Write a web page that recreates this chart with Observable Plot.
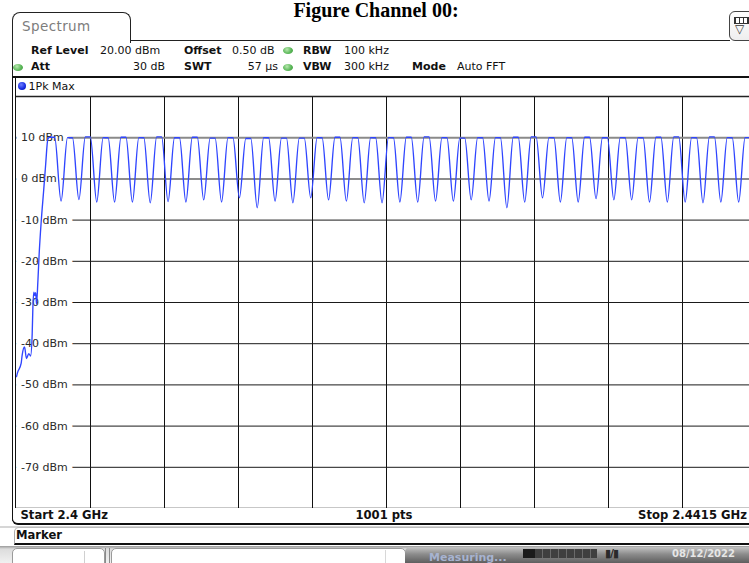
<!DOCTYPE html>
<html><head><meta charset="utf-8">
<script src="https://cdn.jsdelivr.net/npm/d3@7"></script>
<script src="https://cdn.jsdelivr.net/npm/@observablehq/plot@0.6"></script>
<style>
html,body{margin:0;padding:0;background:#fff;overflow:hidden;}
#wrap{position:relative;width:749px;height:563px;overflow:hidden;font-family:"DejaVu Sans",Verdana,sans-serif;font-size:11px;color:#111;}
.a{position:absolute;white-space:nowrap;}
.t{line-height:13px;height:13px;}
.b{font-weight:bold;}
.g{position:absolute;width:10px;height:7px;border-radius:50%;background:radial-gradient(circle at 40% 35%,#b9e8b0,#5cb85a 55%,#3f9a3e);}
#chart{position:absolute;left:0;top:0;z-index:0;}
.ov{z-index:2;}
</style>
</head><body>
<div id="wrap">
  <div id="chart"></div>
</div>
<script>
// ---- axis data ----
const xDomainMHz = [0, 41.5];               // 2.4 GHz .. 2.4415 GHz, offset in MHz
const xGridMHz = [4.15, 8.3, 12.45, 16.6, 20.75, 24.9, 29.05, 33.2, 37.35];
const yDomain = [-80, 20];
const yTickValues = [10, 0, -10, -20, -30, -40, -50, -60, -70];
const yTickLabels = ["10 dBm", "0 dBm", "-10 dBm", "-20 dBm", "-30 dBm", "-40 dBm", "-50 dBm", "-60 dBm", "-70 dBm"];
const yEdgeValues = [20, -80];

// ---- trace: initial rise (MHz offset, dBm) ----
const riseMHz = [0.00, 0.06, 0.26, 0.32, 0.45, 0.56, 0.69, 0.79, 0.88, 0.92, 0.97, 1.03, 1.08, 1.12, 1.20, 1.27, 1.39, 1.52, 1.63, 1.76];
const riseDbm = [-48.0, -47.0, -44.8, -42.7, -40.8, -43.6, -42.4, -43.0, -37.6, -31.0, -27.5, -28.3, -27.6, -30.4, -24.8, -18.3, -10.1, -3.0, 3.2, 9.7];

// ---- trace: channel plateaus and dips ----
const chanMHz = [2, 3, 4, 5, 6, 7, 8, 9, 10, 11, 12, 13, 14, 15, 16, 17, 18, 19, 20, 21,
                 22, 23, 24, 25, 26, 27, 28, 29, 30, 31, 32, 33, 34, 35, 36, 37, 38, 39, 40, 41];
const peakDbm = [10.1, 10.0, 10.2, 10.0, 10.1, 10.0, 10.2, 10.0, 10.1, 9.9, 10.0, 9.8, 10.0, 9.9, 9.9, 10.0, 10.1, 10.0, 10.0, 10.0,
                 10.1, 10.2, 10.0, 9.9, 10.0, 10.0, 10.1, 10.2, 10.0, 10.0, 10.1, 10.0, 10.0, 10.0, 10.1, 10.2, 10.0, 10.2, 10.0, 10.0];
const dipMHz = [2.5, 3.5, 4.5, 5.5, 6.5, 7.5, 8.5, 9.5, 10.5, 11.5, 12.5, 13.5, 14.5, 15.5, 16.5, 17.5, 18.5, 19.5, 20.5, 21.5,
                22.5, 23.5, 24.5, 25.5, 26.5, 27.5, 28.5, 29.5, 30.5, 31.5, 32.5, 33.5, 34.5, 35.5, 36.5, 37.5, 38.5, 39.5, 40.5, 41.5];
const dipDbm = [-5.4, -5.0, -5.6, -5.6, -5.6, -5.8, -5.5, -5.6, -5.1, -5.6, -4.6, -7.0, -5.4, -5.8, -4.6, -5.1, -5.4, -5.8, -5.8, -5.6,
                -5.6, -5.4, -5.4, -5.1, -5.4, -7.0, -5.6, -4.6, -5.6, -5.6, -4.8, -5.1, -5.1, -5.6, -5.6, -5.6, -5.8, -5.6, -5.6, -5.5];

const plateauHalf = 0.14;
const trace = [];
riseMHz.forEach((f, i) => trace.push({f, v: riseDbm[i]}));
chanMHz.forEach((c, i) => {
  trace.push({f: c - plateauHalf, v: peakDbm[i]});
  trace.push({f: c + plateauHalf, v: peakDbm[i]});
  trace.push({f: dipMHz[i], v: dipDbm[i]});
});

const chart = Plot.plot({
  width: 749, height: 563,
  marginTop: 96, marginBottom: 55, marginLeft: 16, marginRight: -7,
  x: {domain: xDomainMHz, axis: null},
  y: {domain: yDomain, axis: null},
  style: {background: "white", overflow: "hidden"},
  marks: [
    Plot.ruleX(xGridMHz, {stroke: "#111", strokeWidth: 1}),
    Plot.ruleY(yTickValues.filter(d => d !== 10 && d !== 0), {stroke: "#1a1a1a", strokeWidth: 1}),
    Plot.ruleY([10], {stroke: "#8a8a8a", strokeWidth: 2}),
    Plot.ruleY([0], {stroke: "#666", strokeWidth: 1.5}),
    Plot.ruleY(yEdgeValues, {stroke: "#222", strokeWidth: 1.5}),
    Plot.text(yTickValues, {y: d => d, text: (d, i) => yTickLabels[i], frameAnchor: "left", dx: 4.5,
      textAnchor: "start", fill: "#2a2a2a", stroke: "white", strokeWidth: 11, paintOrder: "stroke",
      strokeLinejoin: "miter", fontSize: 11, fontFamily: "DejaVu Sans"}),
    Plot.line(trace, {x: "f", y: "v", stroke: "#2f45ff", strokeWidth: 1.35, curve: "monotone-x", clip: true})
  ]
});
document.getElementById("chart").appendChild(chart);

// ---- instrument frame (HTML overlay) ----
const wrap = document.getElementById("wrap");
function el(html) { wrap.insertAdjacentHTML("beforeend", html); }

// title
el(`<div class="a ov" style="left:0;width:752px;top:0px;text-align:center;font:bold 20px 'Liberation Serif',serif;line-height:20px;color:#000">Figure Channel 00:</div>`);
// tab
el(`<div class="a ov" style="left:11.5px;top:12px;width:117px;height:30px;border:1.5px solid #222;border-bottom:none;border-radius:8px 8px 0 0;background:#fff"></div>`);
el(`<div class="a ov t" style="left:22px;top:19px;font-size:13.5px;letter-spacing:0.4px;color:#7d7d7d;line-height:15px">Spectrum</div>`);
// header box
el(`<div class="a ov" style="left:130px;top:40px;width:600px;border-top:1.5px solid #222"></div>`);
el(`<div class="a ov" style="left:11.5px;top:40px;height:37px;border-left:1.5px solid #222"></div>`);
el(`<div class="a ov" style="left:11.5px;top:76px;width:760px;border-top:2px solid #111"></div>`);
// icon top-right
el(`<div class="a ov" style="left:729px;top:11px;width:24px;height:28px;border:1.5px solid #444;border-radius:6px;background:linear-gradient(#fff,#eee)">
  <div class="a" style="left:4px;top:5px;width:13px;height:5px;border:1.5px solid #333;background:repeating-linear-gradient(90deg,#333 0 1px,#fff 1px 4px)"></div>
  <div class="a" style="left:5px;top:11px;font-size:12px;line-height:12px;color:#333">▽</div>
</div>`);
// header parameters
el(`<div class="a ov t b" style="left:31px;top:43.5px">Ref Level</div>`);
el(`<div class="a ov t" style="left:100px;top:43.5px">20.00 dBm</div>`);
el(`<div class="a ov t b" style="left:184px;top:43.5px">Offset</div>`);
el(`<div class="a ov t" style="left:232px;top:43.5px">0.50 dB</div>`);
el(`<div class="g ov" style="left:283px;top:47px"></div>`);
el(`<div class="a ov t b" style="left:303px;top:43.5px">RBW</div>`);
el(`<div class="a ov t" style="left:344px;top:43.5px">100 kHz</div>`);

el(`<div class="g ov" style="left:13px;top:63.5px"></div>`);
el(`<div class="a ov t b" style="left:31px;top:60px">Att</div>`);
el(`<div class="a ov t" style="left:100px;width:65px;text-align:right;top:60px">30 dB</div>`);
el(`<div class="a ov t b" style="left:184px;top:60px">SWT</div>`);
el(`<div class="a ov t" style="left:212px;width:66px;text-align:right;top:60px">57 µs</div>`);
el(`<div class="g ov" style="left:283px;top:63.5px"></div>`);
el(`<div class="a ov t b" style="left:303px;top:60px">VBW</div>`);
el(`<div class="a ov t" style="left:344px;top:60px">300 kHz</div>`);
el(`<div class="a ov t b" style="left:412px;top:60px">Mode</div>`);
el(`<div class="a ov t" style="left:457px;top:60px">Auto FFT</div>`);

// trace row
el(`<div class="a ov" style="left:18px;top:81.5px;width:8px;height:8px;border-radius:50%;background:radial-gradient(circle at 40% 35%,#6d7dff,#1528e0 60%,#0a1690)"></div>`);
el(`<div class="a ov t" style="left:28.5px;top:79.5px">1Pk Max</div>`);

// left double border
el(`<div class="a ov" style="left:11.5px;top:77px;height:444px;border-left:1.5px solid #111"></div>`);
el(`<div class="a ov" style="left:15px;top:77px;height:447px;border-left:1.5px solid #111"></div>`);

// bottom start/stop row
el(`<div class="a ov" style="left:11.5px;top:508px;width:760px;height:15px;border-left:1.5px solid #111;border-bottom:2.5px solid #111;border-radius:0 0 0 6px;background:#fff"></div>`);
el(`<div class="a ov t b" style="left:20.5px;top:508.5px;font-size:11.6px">Start 2.4 GHz</div>`);
el(`<div class="a ov t b" style="left:300px;width:168px;text-align:center;top:508.5px;font-size:11.6px">1001 pts</div>`);
el(`<div class="a ov t b" style="left:560px;width:187px;text-align:right;top:508.5px;font-size:11.6px">Stop 2.4415 GHz</div>`);
// gap
el(`<div class="a ov" style="left:0;top:525.5px;width:749px;height:2px;background:#d6d6d6"></div>`);
// marker row
el(`<div class="a ov" style="left:13.5px;top:527px;width:760px;height:15px;border-left:1px solid #aaa;border-top:1px solid #bbb;border-bottom:2.5px solid #111;border-radius:5px 0 0 0;background:#fff"></div>`);
el(`<div class="a ov t b" style="left:16px;top:528.5px;font-size:11.6px">Marker</div>`);
// status bar
el(`<div class="a ov" style="left:0;top:545.5px;width:749px;height:18px;background:linear-gradient(#9a9a9a,#dcdcdc 3px,#f2f2f2)"></div>`);
el(`<div class="a ov" style="left:12px;top:548px;width:91px;height:20px;border:1px solid #9a9a9a;border-radius:5px 5px 0 0;background:#fff"></div>`);
el(`<div class="a ov" style="left:84px;top:551px;height:12px;border-left:1px solid #d0d0d0"></div>`);
el(`<div class="a ov" style="left:104.5px;top:548px;height:15px;border-left:1px solid #8a8a8a"></div>`);
el(`<div class="a ov" style="left:108.5px;top:548px;height:15px;border-left:1px solid #8a8a8a"></div>`);
el(`<div class="a ov" style="left:110.5px;top:548px;width:293px;height:20px;border:1px solid #9a9a9a;border-radius:5px 5px 0 0;background:#fff"></div>`);
el(`<div class="a ov" style="left:385px;top:550px;height:13px;border-left:1px solid #d8d8d8"></div>`);
el(`<div class="a ov" style="left:405px;top:547px;width:344px;height:16px;border-radius:5px 0 0 0;background:linear-gradient(#c4c4c4,#8c8c8c 45%,#5e5e5e)"></div>`);
el(`<div class="a ov b" style="left:429px;top:552px;font-size:11px;line-height:12px;color:#a7b3d0">Measuring...</div>`);
el(`<div class="a ov" style="left:523px;top:549px;width:12px;height:9px;background:#1b1b1b"></div>`);
el(`<div class="a ov" style="left:535px;top:549px;width:62px;height:9px;background:repeating-linear-gradient(90deg,#3f3f3f 0 7px,#6a6a6a 7px 8px)"></div>`);
el(`<div class="a ov b" style="left:605px;top:548px;font-size:11px;line-height:12px;color:#2a2a2a;letter-spacing:-1px">▮/▮</div>`);
el(`<div class="a ov b" style="left:672px;top:548px;font-size:10px;line-height:11px;color:#e6e6e6">08/12/2022</div>`);
</script>
</body></html>
